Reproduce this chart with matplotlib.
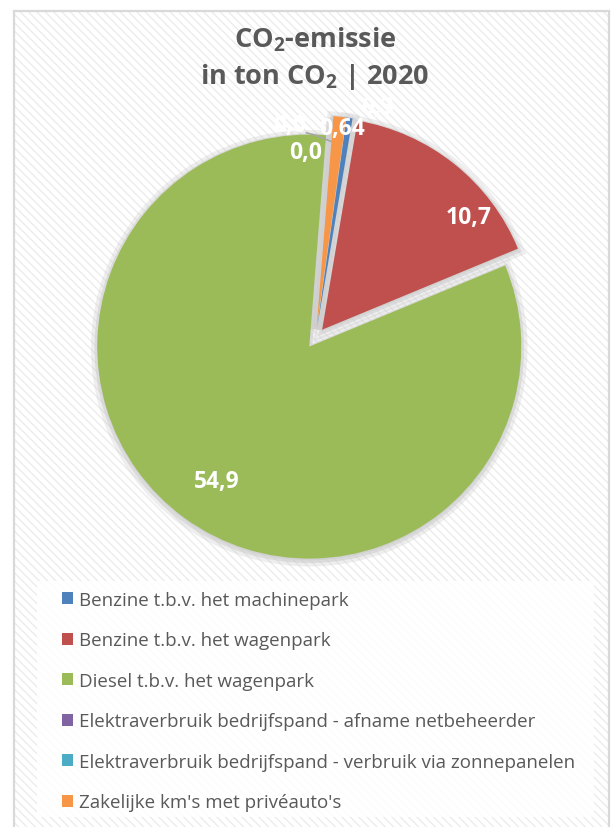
import matplotlib
matplotlib.use("Agg")
import matplotlib.pyplot as plt
import numpy as np
from matplotlib.patches import Rectangle, Wedge

plt.rcParams['font.family'] = ['Open Sans', 'DejaVu Sans']
plt.rcParams['mathtext.default'] = 'regular'
plt.rcParams['hatch.linewidth'] = 1.0
plt.rcParams['hatch.color'] = '#ececec'

# data
categories = [
    "Benzine t.b.v. het machinepark",
    "Benzine t.b.v. het wagenpark",
    "Diesel t.b.v. het wagenpark",
    "Elektraverbruik bedrijfspand - afname netbeheerder",
    "Elektraverbruik bedrijfspand - verbruik via zonnepanelen",
    "Zakelijke km's met privéauto's",
]
values = [0.3, 10.7, 54.9, 0.0, 0.0, 0.64]
colors = ["#4F81BD", "#C0504D", "#9BBB59", "#8064A2", "#4BACC6", "#F79646"]
labels = [str(v).replace('.', ',') for v in values]

# label placement (radius, angle nudge in degrees) - layout only
label_r = [1.13, 0.92, 0.82, 1.01, 0.88, 1.00]
label_dang = [-6.2, -13.0, 1.6, 11.5, 7.7, -1.0]

W, H = 613, 828
fig = plt.figure(figsize=(W / 100, H / 100), dpi=100, facecolor='white')

# background: hatched chart area with light frame
fig.patches.append(Rectangle((14 / W, -0.01), (609 - 14) / W, 1 - 12 / H + 0.01,
                             transform=fig.transFigure, facecolor='white',
                             edgecolor='#ececec', hatch='\\\\\\\\', lw=0, zorder=-3))
fig.patches.append(Rectangle((14 / W, -0.01), (609 - 14) / W, 1 - 12 / H + 0.01,
                             transform=fig.transFigure, fill=False,
                             edgecolor='#d9d9d9', lw=1.6, zorder=-2))
# legend box
fig.patches.append(Rectangle((37 / W, 1 - 818 / H), (594 - 37) / W, (818 - 582) / H,
                             transform=fig.transFigure, facecolor='white',
                             alpha=0.85, lw=0, zorder=-1))

# pie axes: centre at (315.5, 339) px, radius 212 px
R = 212
cx, cy = 315.5, 339
half = 1.2 * R
ax = fig.add_axes([(cx - half) / W, (H - cy - half) / H, 2 * half / W, 2 * half / H])
ax.patch.set_visible(False)

wedges, _ = ax.pie(values, colors=colors, startangle=82, counterclock=False,
                   explode=[0.05] * len(values), radius=1)
for w in wedges:
    w.set_zorder(3)
    # soft shadow: two layers of light gray
    for lw, a in [(9, 0.35), (4, 0.6)]:
        sh = Wedge((w.center[0], w.center[1] - 0.008), w.r, w.theta1, w.theta2,
                   facecolor='#cfcfcf', edgecolor='#cfcfcf', lw=lw, alpha=a, zorder=1)
        ax.add_patch(sh)

for i, w in enumerate(wedges):
    ang = np.deg2rad((w.theta1 + w.theta2) / 2 + label_dang[i])
    x, y = label_r[i] * np.cos(ang), label_r[i] * np.sin(ang)
    ax.text(x, y, labels[i], ha='center', va='center', color='white',
            fontsize=16.5, fontweight='bold', zorder=5)

# leader line for the first zero label
w = wedges[3]
a0 = np.deg2rad(w.theta1)
ang = np.deg2rad(w.theta1 + label_dang[3])
ax.plot([label_r[3] * np.cos(ang) + 0.08, label_r[3] * np.cos(ang) + 0.12, 0.93 * np.cos(a0)],
        [label_r[3] * np.sin(ang) - 0.035, label_r[3] * np.sin(ang) - 0.045, 0.93 * np.sin(a0)],
        color='#a6a6a6', lw=1.2, zorder=4)

ax.set_xlim(-1.2, 1.2)
ax.set_ylim(-1.2, 1.2)
ax.set_aspect('equal')
ax.axis('off')

fig.text(315 / W, 1 - 40 / H, r"CO$_2$-emissie", ha='center', va='center',
         fontsize=19.5, fontweight='bold', color='#595959')
fig.text(315 / W, 1 - 77 / H, r"in ton CO$_2$ | 2020", ha='center', va='center',
         fontsize=19.5, fontweight='bold', color='#595959')

fig.legend(wedges, categories, loc='upper left', bbox_to_anchor=(62 / W, 1 - 592 / H),
           frameon=False, fontsize=13.5, handlelength=0.6, handleheight=0.6,
           handletextpad=0.3, labelspacing=1.2, borderpad=0, borderaxespad=0,
           labelcolor='#595959')

fig.savefig('out.png', dpi=100, facecolor='white')
